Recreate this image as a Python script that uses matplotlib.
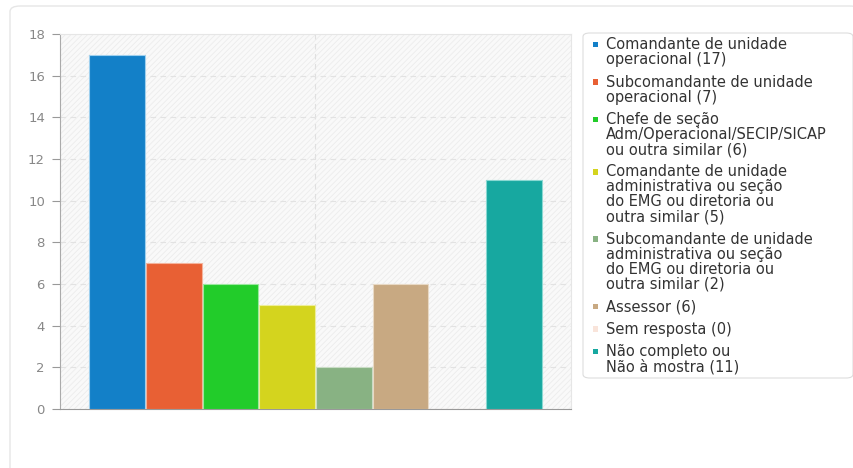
import matplotlib
matplotlib.use("Agg")
import matplotlib.pyplot as plt
from matplotlib.patches import FancyBboxPatch, Rectangle

# ── Data ─────────────────────────────────────────────────────────────────────
labels = [
    "Comandante de unidade\noperacional",
    "Subcomandante de unidade\noperacional",
    "Chefe de seção\nAdm/Operacional/SECIP/SICAP\nou outra similar",
    "Comandante de unidade\nadministrativa ou seção\ndo EMG ou diretoria ou\noutra similar",
    "Subcomandante de unidade\nadministrativa ou seção\ndo EMG ou diretoria ou\noutra similar",
    "Assessor",
    "Sem resposta",
    "Não completo ou\nNão à mostra",
]
counts = [17, 7, 6, 5, 2, 6, 0, 11]
colors = ["#1380c8", "#e86034", "#22cc2a", "#d4d41e",
          "#88b283", "#c8a982", "#f9e4da", "#17a8a0"]
y_ticks = [0, 2, 4, 6, 8, 10, 12, 14, 16, 18]

W, H = 854, 468
plt.rcParams["font.family"] = "DejaVu Sans"
plt.rcParams["hatch.linewidth"] = 0.6
fig = plt.figure(figsize=(W / 100, H / 100), dpi=100)


def fx(px):
    return px / W


def fy(py):
    return 1 - py / H


# outer card
fig.patches.append(FancyBboxPatch((fx(10), fy(500)), fx(860) - fx(10), fy(6) - fy(500),
                                  boxstyle="round,pad=0,rounding_size=0.012",
                                  transform=fig.transFigure, facecolor="white",
                                  edgecolor="#e6e6e6", linewidth=1.0, zorder=-5))

# ── Axes ─────────────────────────────────────────────────────────────────────
ax = fig.add_axes([fx(60), fy(409), fx(571) - fx(60), fy(34) - fy(409)])
ax.set_zorder(2)
ax.set_facecolor("#f9f9f9")
ax.add_patch(Rectangle((0, 0), 1, 1, transform=ax.transAxes, facecolor="none",
                       edgecolor="#ececec", hatch="//////", linewidth=0, zorder=0))

x = list(range(len(counts)))
edge = ["#9fd0ee", "#f4b39c", "#9be89f", "#eeee9a", "#c9dcc5", "#e8d9c5", "#f0d6c8", "#8ad8d2"]
ax.bar(x, counts, width=0.985, color=colors, edgecolor=edge, linewidth=0.8, zorder=3)

ax.set_ylim(0, 18)
ax.set_xlim(-1.01, 8.01)
ax.set_yticks(y_ticks)
ax.set_xticks([])
ax.axvline(3.5, color="#e0e0e0", linestyle=(0, (5, 4)), linewidth=0.8, zorder=1)
for t in y_ticks[1:-1]:
    ax.axhline(t, color="#e2e2e2", linestyle=(0, (5, 4)), linewidth=0.8, zorder=1)

ax.tick_params(axis="y", colors="#999999", labelcolor="#888888", labelsize=9.5,
               length=5.8, width=0.8, pad=5)
for s in ["top", "right"]:
    ax.spines[s].set_color("#e6e6e6")
    ax.spines[s].set_linewidth(0.8)
ax.spines["left"].set_color("#aaaaaa")
ax.spines["bottom"].set_color("#999999")
ax.spines["left"].set_linewidth(0.8)
ax.spines["bottom"].set_linewidth(0.8)

# ── Legend ───────────────────────────────────────────────────────────────────
fig.patches.append(FancyBboxPatch((fx(583), fy(378)), fx(853) - fx(583), fy(33) - fy(378),
                                  boxstyle="round,pad=0,rounding_size=0.008",
                                  transform=fig.transFigure, facecolor="white",
                                  edgecolor="#dddddd", linewidth=0.8, zorder=1))
base = 49.3
line_h = 15.0
for lab, n, c in zip(labels, counts, colors):
    txt = f"{lab} ({n})"
    nl = txt.count("\n")
    # place by baseline of last line
    fig.text(fx(606), fy(base + nl * line_h), txt, fontsize=10.5, color="#333333",
             va="baseline", ha="left", linespacing=1.0, zorder=3)
    fig.patches.append(Rectangle((fx(593), fy(base - 2)), fx(5.5), fx(5.5) * W / H,
                                 transform=fig.transFigure, facecolor=c,
                                 edgecolor="none", zorder=3))
    base += line_h * (nl + 1) + 7.4

fig.savefig("out.png", dpi=100)
